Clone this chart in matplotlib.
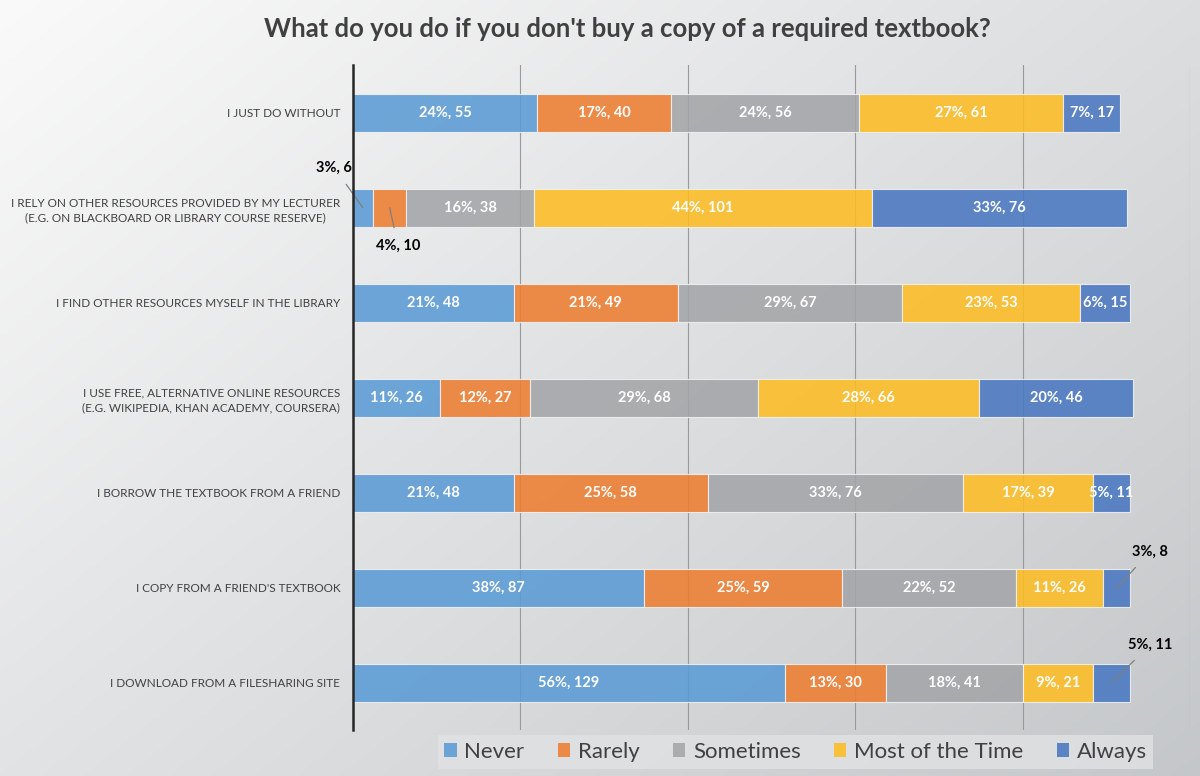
import numpy as np
import matplotlib
matplotlib.use('Agg')
import matplotlib.pyplot as plt
from matplotlib.patches import Patch

## DATA
categories = [
    "I JUST DO WITHOUT",
    "I RELY ON OTHER RESOURCES PROVIDED BY MY LECTURER\n(E.G. ON BLACKBOARD OR LIBRARY COURSE RESERVE)",
    "I FIND OTHER RESOURCES MYSELF IN THE LIBRARY",
    "I USE FREE, ALTERNATIVE ONLINE RESOURCES\n(E.G. WIKIPEDIA, KHAN ACADEMY, COURSERA)",
    "I BORROW THE TEXTBOOK FROM A FRIEND",
    "I COPY FROM A FRIEND'S TEXTBOOK",
    "I DOWNLOAD FROM A FILESHARING SITE",
]
series = ["Never", "Rarely", "Sometimes", "Most of the Time", "Always"]
never = [55, 6, 48, 26, 48, 87, 129]
rarely = [40, 10, 49, 27, 58, 59, 30]
sometimes = [56, 38, 67, 68, 76, 52, 41]
most = [61, 101, 53, 66, 39, 26, 21]
always = [17, 76, 15, 46, 11, 8, 11]
pct_never = [24, 3, 21, 11, 21, 38, 56]
pct_rarely = [17, 4, 21, 12, 25, 25, 13]
pct_sometimes = [24, 16, 29, 29, 33, 22, 18]
pct_most = [27, 44, 23, 28, 17, 11, 9]
pct_always = [7, 33, 6, 20, 5, 3, 5]

colors = ['#5b9bd5', '#ed7d31', '#a3a5a8', '#fdbd24', '#4a78c2']
# segments too small for an inside label -> callouts (row, series, label pos)
callouts = {(1, 0): (-5.5, 0.58), (1, 1): (13.5, 1.40),
            (5, 4): (238, 4.62), (6, 4): (238, 5.60)}

FONT = ['Lato', 'DejaVu Sans']
TXT = '#404040'

fig = plt.figure(figsize=(12, 7.76), dpi=100)

# gradient background
bg = fig.add_axes([0, 0, 1, 1], zorder=-10)
gx, gy = np.meshgrid(np.linspace(0, 1, 300), np.linspace(0, 1, 200))
g = np.clip(0.55 * gx + 0.45 * gy, 0, 1)
c0 = np.array([0.98, 0.98, 0.98])
c1 = np.array([0.77, 0.78, 0.79])
img = c0[None, None, :] * (1 - g[..., None]) + c1[None, None, :] * g[..., None]
bg.imshow(img, aspect='auto', extent=[0, 1, 0, 1], origin='upper')
bg.axis('off')

ax = fig.add_axes([0.294, 0.059, 0.698, 0.857])
ax.patch.set_alpha(0)

values = [never, rarely, sometimes, most, always]
pcts = [pct_never, pct_rarely, pct_sometimes, pct_most, pct_always]
y = np.arange(len(categories))
left = np.zeros(len(categories))
for s, (vals, pc, col, name) in enumerate(zip(values, pcts, colors, series)):
    vals = np.array(vals, dtype=float)
    ax.barh(y, vals, left=left, height=0.4, color=col, alpha=0.88,
            edgecolor='#f2f2f2', linewidth=0.8, label=name, zorder=3)
    for i in range(len(categories)):
        lab = f"{pc[i]}%, {int(vals[i])}"
        cx = left[i] + vals[i] / 2
        if (i, s) in callouts:
            tx, ty = callouts[(i, s)]
            ax.annotate(lab, xy=(cx, i), xytext=(tx, ty), textcoords='data',
                        ha='center', va='center', fontsize=10.5, fontweight='bold',
                        family=FONT, color='black', annotation_clip=False,
                        arrowprops=dict(arrowstyle='-', color='#7f7f7f', lw=0.9,
                                        shrinkA=6, shrinkB=0), zorder=5)
        else:
            ax.text(cx, i, lab, ha='center', va='center', fontsize=10.5,
                    fontweight='bold', family=FONT, color='white', zorder=4)
    left += vals

ax.set_xlim(0, 250)
ax.set_ylim(len(categories) - 0.5, -0.5)
ax.set_xticks([50, 100, 150, 200, 250])
ax.xaxis.grid(True, color='#9a9a9a', linewidth=0.8, zorder=0)
ax.tick_params(axis='x', length=0, labelbottom=False)
ax.tick_params(axis='y', length=0, pad=9)
ax.set_yticks(y)
ax.set_yticklabels(categories, fontsize=8.5, color=TXT, family=FONT,
                   multialignment='center', linespacing=1.35)
for sp in ['top', 'right', 'bottom']:
    ax.spines[sp].set_visible(False)
ax.spines['left'].set_color('#262626')
ax.spines['left'].set_linewidth(1.8)
ax.spines['left'].set_zorder(6)

fig.text(0.523, 0.963, "What do you do if you don't buy a copy of a required textbook?",
         ha='center', va='center', fontsize=18.5, fontweight='bold', color=TXT,
         family=FONT)

handles = [Patch(facecolor=c, edgecolor='none', alpha=0.88) for c in colors]
leg = fig.legend(handles, series, loc='center', bbox_to_anchor=(0.663, 0.031), ncol=5,
                 frameon=True, fancybox=False, handlelength=0.55,
                 handleheight=0.55, handletextpad=0.35, columnspacing=1.5,
                 prop={'family': FONT, 'size': 16}, borderpad=0.3)
leg.get_frame().set_facecolor('#e1e2e4')
leg.get_frame().set_edgecolor('none')
for t in leg.get_texts():
    t.set_color(TXT)

fig.savefig('out.png', dpi=100)
